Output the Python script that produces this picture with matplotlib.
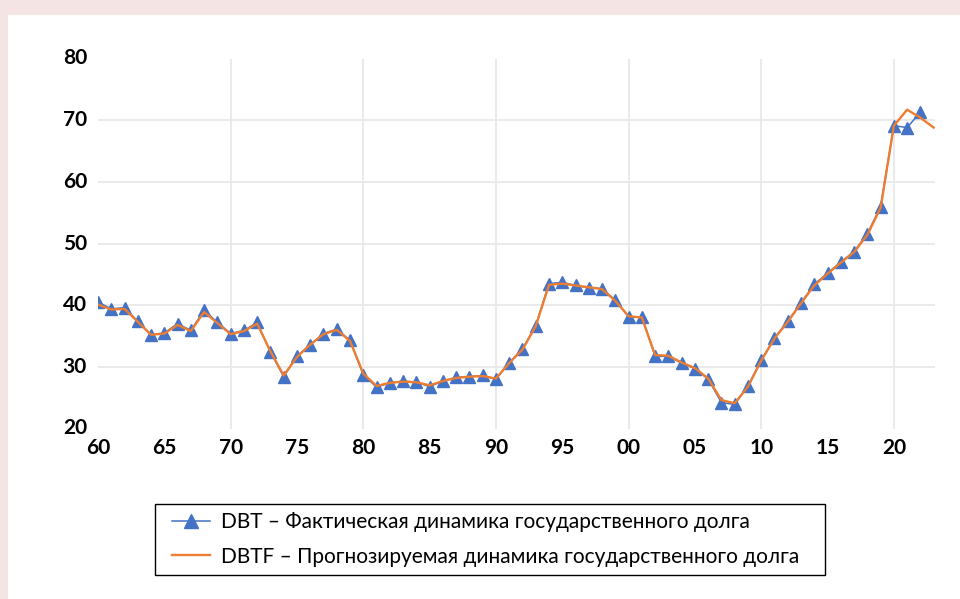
import matplotlib
matplotlib.use("Agg")
import matplotlib.pyplot as plt
import matplotlib.transforms as mtransforms
from matplotlib.patches import Rectangle
from matplotlib.legend_handler import HandlerLine2D

years = list(range(1960, 2023))
dbt = [40.5, 39.4, 39.6, 37.4, 35.2, 35.5, 37.0, 35.9, 39.2, 37.2,
       35.4, 35.9, 37.2, 32.4, 28.4, 31.7, 33.6, 35.4, 36.1, 34.3,
       28.7, 26.7, 27.4, 27.7, 27.5, 26.8, 27.7, 28.3, 28.4, 28.6,
       28.0, 30.7, 32.9, 36.7, 43.5, 43.7, 43.2, 42.8, 42.7, 40.8,
       38.1, 38.1, 31.7, 31.7, 30.6, 29.7, 28.0, 24.2, 23.9, 26.9,
       31.1, 34.7, 37.4, 40.4, 43.4, 45.2, 47.0, 48.7, 51.6, 56.0,
       69.1, 68.8, 71.3]

years_f = list(range(1960, 2024))
dbtf = [40.1, 39.3, 39.4, 37.3, 35.2, 35.4, 36.8, 35.8, 38.9, 37.1,
        35.3, 35.8, 37.0, 32.5, 28.6, 31.6, 33.6, 35.3, 36.0, 34.2,
        28.9, 26.9, 27.4, 27.6, 27.5, 27.0, 27.7, 28.2, 28.4, 28.5,
        28.1, 30.6, 32.8, 36.6, 43.3, 43.5, 43.2, 42.9, 42.6, 40.7,
        38.2, 38.0, 31.9, 31.8, 30.7, 29.8, 28.1, 24.6, 24.1, 26.8,
        31.0, 34.6, 37.3, 40.3, 43.2, 45.1, 46.9, 48.6, 51.4, 55.8,
        69.1, 71.7, 70.4, 68.8]

x_ticks = [1960, 1965, 1970, 1975, 1980, 1985, 1990, 1995, 2000, 2005, 2010, 2015, 2020]
x_labels = ["60", "65", "70", "75", "80", "85", "90", "95", "00", "05", "10", "15", "20"]
y_ticks = [20, 30, 40, 50, 60, 70, 80]

label_dbt = "DBT – Фактическая динамика государственного долга"
label_dbtf = "DBTF – Прогнозируемая динамика государственного долга"

plt.rcParams['font.family'] = ['Lato', 'DejaVu Sans']

fig = plt.figure(figsize=(9.6, 5.99), dpi=100)
fig.patch.set_facecolor('#F5E4E4')
fig.patches.append(Rectangle((8/960, 0), 1 - 8/960, 1 - 15/599,
                             transform=fig.transFigure, facecolor='white',
                             edgecolor='none', zorder=-5))

top_px, bot_px = 58.5, 428.5
ax = fig.add_axes([98/960, 1 - bot_px/599, (935 - 98)/960, (bot_px - top_px)/599])
ax.set_zorder(2)
ax.set_facecolor('none')

ax.plot(years, dbt, color='#4472C4', lw=1.1, marker='^', markersize=8,
        markeredgecolor='#4472C4', markerfacecolor='#4472C4', label=label_dbt, zorder=3)
ax.plot(years_f, dbtf, color='#ED7D31', lw=1.7, label=label_dbtf, zorder=4)

ax.set_xlim(1960, 2023.1)
ax.set_ylim(20, 80)
ax.set_xticks(x_ticks)
ax.set_xticklabels(x_labels)
ax.set_yticks(y_ticks)

for v in [30, 40, 50, 60, 70]:
    ax.axhline(v, color='#E8E8E8', lw=1.3, zorder=1)
for v in [1970, 1980, 1990, 2000, 2010, 2020]:
    ax.axvline(v, color='#E8E8E8', lw=1.3, zorder=1)

for s in ax.spines.values():
    s.set_visible(False)
ax.tick_params(axis='both', length=0, labelsize=15)
ax.tick_params(axis='y', pad=8)
ax.tick_params(axis='x', pad=7)
shift = mtransforms.ScaledTranslation(0, 2/100, fig.dpi_scale_trans)
for t in ax.get_xticklabels() + ax.get_yticklabels():
    t.set_fontweight('bold')
for t in ax.get_yticklabels():
    t.set_transform(t.get_transform() + shift)

leg = fig.legend(loc='center', bbox_to_anchor=(155/960, 1 - 573/599, 670/960, 67/599),
                 mode='expand', borderaxespad=0, fontsize=15, frameon=True, fancybox=False,
                 edgecolor='black', framealpha=1, handlelength=2.25,
                 handletextpad=0.53, borderpad=0.4, labelspacing=0.68,
                 handler_map={ax.lines[0]: HandlerLine2D(xpad=0.42),
                              ax.lines[1]: HandlerLine2D(xpad=0.42)})
leg.set_zorder(5)
leg.get_frame().set_linewidth(1.0)
for h in leg.legend_handles:
    if h.get_marker() not in (None, 'None', ''):
        h.set_markersize(9.5)

fig.savefig('out.png', dpi=100, facecolor=fig.get_facecolor())
